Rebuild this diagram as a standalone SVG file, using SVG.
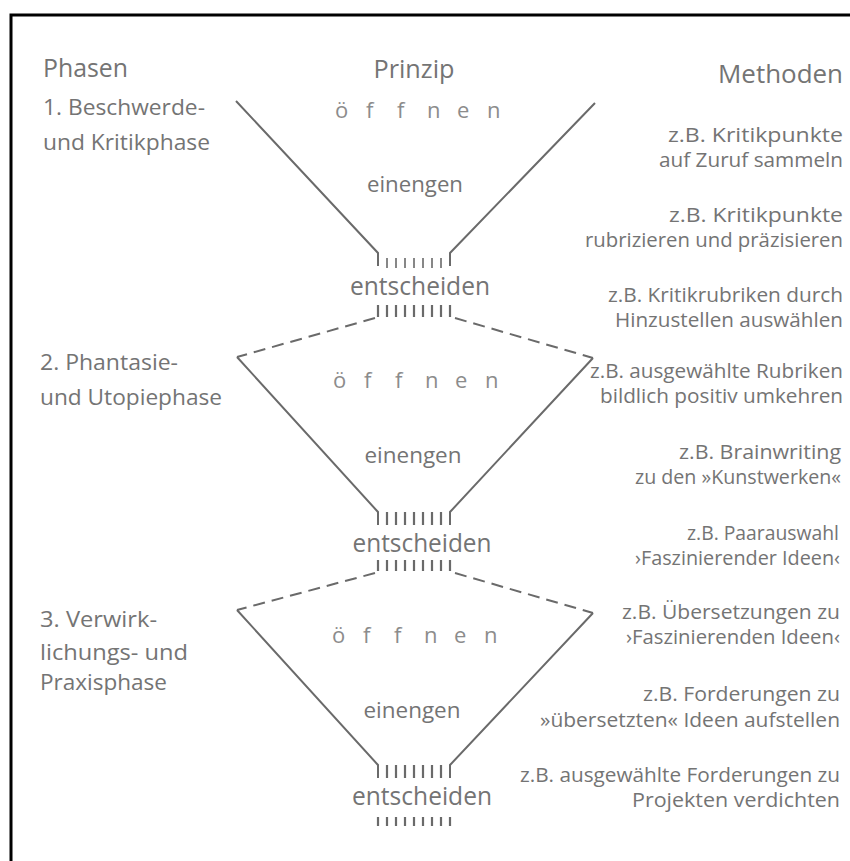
<svg xmlns="http://www.w3.org/2000/svg" width="850" height="861" viewBox="0 0 850 861">
<style>
text{font-family:"Open Sans","Liberation Sans",sans-serif;fill:#747474}
.h{font-size:26px}
.l{font-size:22px}
.m{font-size:20px;text-anchor:end}
.c{text-anchor:middle}
.o{font-size:22px;fill:#8c8c8c}
.e{font-size:26px}
.ln{stroke:#6a6a6a;stroke-width:2;fill:none}
.d{stroke-dasharray:12 7}
.tk{stroke:#6a6a6a;stroke-width:1.6}
.tb{stroke:#6a6a6a;stroke-width:2.2}
</style>
<rect width="850" height="861" fill="#fff"/>
<path d="M11 861V15H850" fill="none" stroke="#000" stroke-width="3"/>

<g id="headers">
<text class="h" x="43" y="77" textLength="85" lengthAdjust="spacingAndGlyphs">Phasen</text>
<text class="h c" x="414" y="78" textLength="81" lengthAdjust="spacingAndGlyphs">Prinzip</text>
<text class="h" x="843" y="83" text-anchor="end" textLength="125" lengthAdjust="spacingAndGlyphs">Methoden</text>
</g>

<g id="phase1">
<text class="l" x="43" y="115" textLength="162" lengthAdjust="spacingAndGlyphs">1. Beschwerde-</text>
<text class="l" x="43" y="150" textLength="167" lengthAdjust="spacingAndGlyphs">und Kritikphase</text>
</g>
<g id="phase2">
<text class="l" x="40" y="370" textLength="138" lengthAdjust="spacingAndGlyphs">2. Phantasie-</text>
<text class="l" x="40" y="405" textLength="182" lengthAdjust="spacingAndGlyphs">und Utopiephase</text>
</g>
<g id="phase3">
<text class="l" x="40" y="627" textLength="117" lengthAdjust="spacingAndGlyphs">3. Verwirk-</text>
<text class="l" x="40" y="660" textLength="148" lengthAdjust="spacingAndGlyphs">lichungs- und</text>
<text class="l" x="40" y="690" textLength="127" lengthAdjust="spacingAndGlyphs">Praxisphase</text>
</g>

<g id="funnel1">
<text class="o" x="335 347 366 378 397 409 427 439 457 469 487" y="118">ö f f n e n</text>
<text class="l c" x="415" y="192" textLength="96" lengthAdjust="spacingAndGlyphs">einengen</text>
<text class="e c" x="420" y="295" textLength="140" lengthAdjust="spacingAndGlyphs">entscheiden</text>
</g>
<g id="funnel2">
<text class="o" x="333 345 364 376 395 407 425 437 455 467 485" y="388">ö f f n e n</text>
<text class="l c" x="413" y="463" textLength="97" lengthAdjust="spacingAndGlyphs">einengen</text>
<text class="e c" x="422" y="552" textLength="139" lengthAdjust="spacingAndGlyphs">entscheiden</text>
</g>
<g id="funnel3">
<text class="o" x="332 344 363 375 394 406 424 436 454 466 484" y="643">ö f f n e n</text>
<text class="l c" x="412" y="718" textLength="97" lengthAdjust="spacingAndGlyphs">einengen</text>
<text class="e c" x="422" y="805" textLength="140" lengthAdjust="spacingAndGlyphs">entscheiden</text>
</g>

<g id="methods">
<text class="m" x="843" y="142" textLength="175" lengthAdjust="spacingAndGlyphs">z.B. Kritikpunkte</text>
<text class="m" x="843" y="167" textLength="184" lengthAdjust="spacingAndGlyphs">auf Zuruf sammeln</text>
<text class="m" x="843" y="222" textLength="174" lengthAdjust="spacingAndGlyphs">z.B. Kritikpunkte</text>
<text class="m" x="843" y="247" textLength="258" lengthAdjust="spacingAndGlyphs">rubrizieren und präzisieren</text>
<text class="m" x="843" y="302" textLength="235" lengthAdjust="spacingAndGlyphs">z.B. Kritikrubriken durch</text>
<text class="m" x="843" y="327" textLength="228" lengthAdjust="spacingAndGlyphs">Hinzustellen auswählen</text>
<text class="m" x="843" y="378" textLength="253" lengthAdjust="spacingAndGlyphs">z.B. ausgewählte Rubriken</text>
<text class="m" x="843" y="403" textLength="243" lengthAdjust="spacingAndGlyphs">bildlich positiv umkehren</text>
<text class="m" x="841" y="459" textLength="162" lengthAdjust="spacingAndGlyphs">z.B. Brainwriting</text>
<text class="m" x="841" y="484" textLength="206" lengthAdjust="spacingAndGlyphs">zu den »Kunstwerken«</text>
<text class="m" x="839" y="540" textLength="152" lengthAdjust="spacingAndGlyphs">z.B. Paarauswahl</text>
<text class="m" x="840" y="565" textLength="205" lengthAdjust="spacingAndGlyphs">›Faszinierender Ideen‹</text>
<text class="m" x="840" y="619" textLength="218" lengthAdjust="spacingAndGlyphs">z.B. Übersetzungen zu</text>
<text class="m" x="840" y="644" textLength="214" lengthAdjust="spacingAndGlyphs">›Faszinierenden Ideen‹</text>
<text class="m" x="840" y="701" textLength="197" lengthAdjust="spacingAndGlyphs">z.B. Forderungen zu</text>
<text class="m" x="840" y="727" textLength="300" lengthAdjust="spacingAndGlyphs">»übersetzten« Ideen aufstellen</text>
<text class="m" x="840" y="782" textLength="320" lengthAdjust="spacingAndGlyphs">z.B. ausgewählte Forderungen zu</text>
<text class="m" x="840" y="807" textLength="208" lengthAdjust="spacingAndGlyphs">Projekten verdichten</text>
</g>

<g id="connectors">
<path class="ln" d="M236 101L378 253V266M595 103L450 253V266"/>
<path class="tk" d="M387 258V268M396 258V268M405 258V268M414 258V268M423 258V268M432 258V268M441 258V268"/>
<path class="tb" d="M378 305V317M387 305V317M396 305V317M405 305V317M414 305V317M423 305V317M432 305V317M441 305V317M450 305V317"/>
<path class="ln d" d="M375 318L237 357M455 318L593 358"/>
<path class="ln" d="M237 357L378 512V525M593 358L450 512V525"/>
<path class="tb" d="M387 512V525M396 512V525M405 512V525M414 512V525M423 512V525M432 512V525M441 512V525"/>
<path class="tb" d="M378 560V571M387 560V571M396 560V571M405 560V571M414 560V571M423 560V571M432 560V571M441 560V571M450 560V571"/>
<path class="ln d" d="M375 573L237 610M455 573L593 613"/>
<path class="ln" d="M237 610L378 765V778M593 613L450 765V778"/>
<path class="tb" d="M387 765V778M396 765V778M405 765V778M414 765V778M423 765V778M432 765V778M441 765V778"/>
<path class="tb" d="M378 817V826M387 817V826M396 817V826M405 817V826M414 817V826M423 817V826M432 817V826M441 817V826M450 817V826"/>
</g>
</svg>
